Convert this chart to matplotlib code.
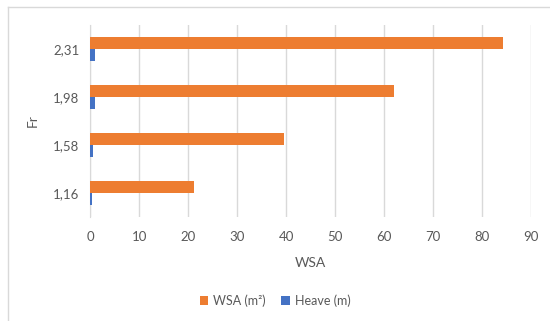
import matplotlib.pyplot as plt
from matplotlib.lines import Line2D
import numpy as np

plt.rcParams['font.family'] = ['Lato', 'DejaVu Sans']

fr_labels = ["1,16", "1,58", "1,98", "2,31"]
wsa = [21.2, 39.6, 62.1, 84.4]
heave = [0.35, 0.57, 0.85, 0.85]

orange = "#ED7D31"
blue = "#4472C4"
text_col = "#595959"
grid_col = "#D9D9D9"

fig = plt.figure(figsize=(5.5, 3.21), dpi=100)
ax = fig.add_axes([0.1645, 0.324, 0.8005, 0.598])

y = np.arange(len(fr_labels))
h = 0.25
ax.barh(y + h / 2, wsa, height=h, color=orange, label="WSA (m²)", zorder=3)
ax.barh(y - h / 2, heave, height=h, color=blue, label="Heave (m)", zorder=3)

ax.set_xlim(0, 90)
ax.set_ylim(-0.5, 3.5)
ax.set_xticks(range(0, 91, 10))
ax.set_yticks(y)
ax.set_yticklabels(fr_labels)
ax.grid(axis="x", color=grid_col, linewidth=1, zorder=0)

for side in ["top", "right", "bottom"]:
    ax.spines[side].set_visible(False)
ax.spines["left"].set_color(grid_col)
ax.tick_params(length=0, colors=text_col, labelsize=9.5)
ax.tick_params(axis="x", pad=10)
ax.tick_params(axis="y", pad=8)

ax.set_xlabel("WSA", color=text_col, fontsize=10, labelpad=10)
ax.set_ylabel("Fr", color=text_col, fontsize=10, labelpad=10)

fig.legend(loc="center", bbox_to_anchor=(0.5, 0.063), ncol=2, frameon=False,
           fontsize=9, handlelength=0.7, handleheight=0.7, handletextpad=0.4,
           columnspacing=1.2, labelcolor=text_col)

# chart frame (left and top edges visible in the crop)
fig.add_artist(Line2D([8 / 550, 8 / 550], [0, 1 - 7 / 321], transform=fig.transFigure,
                      color=grid_col, linewidth=1))
fig.add_artist(Line2D([8 / 550, 1], [1 - 7 / 321, 1 - 7 / 321], transform=fig.transFigure,
                      color=grid_col, linewidth=1))

fig.savefig("out.png", dpi=100)
